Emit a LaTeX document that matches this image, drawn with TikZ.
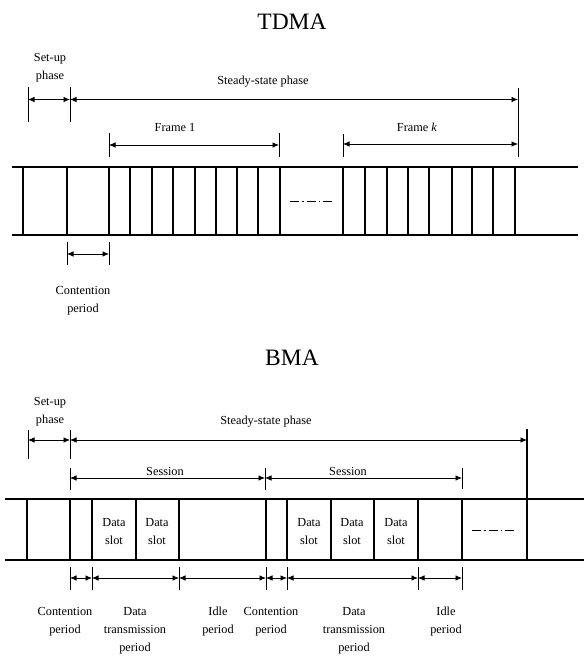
\documentclass[tikz,border=0pt]{standalone}
\usepackage{fontspec}
\setmainfont{Liberation Serif}
\usetikzlibrary{arrows.meta}
\begin{document}
\begin{tikzpicture}[x=1pt,y=-1pt,
  dim/.style={line width=0.8pt, {Latex[length=6.5pt,width=5.5pt]}-{Latex[length=6.5pt,width=5.5pt]}},
  tick/.style={line width=1pt},
  rail/.style={line width=1.2pt},
  slotline/.style={line width=1.1pt},
  lbl/.style={font=\fontsize{12.3}{18}\selectfont, align=center, inner sep=0pt},
  ttl/.style={font=\fontsize{23.5}{26}\selectfont, inner sep=0pt},
  dashdot/.style={line width=1pt, dash pattern=on 9pt off 3pt on 1.5pt off 3pt}
]
\useasboundingbox (0,0) rectangle (584,658);

% ================= TDMA =================
\node[ttl] (ttdma) at (292,22) {TDMA};

% rails
\coordinate (tA1) at (12,167); \coordinate (tA2) at (578,167);
\coordinate (tB1) at (12,235); \coordinate (tB2) at (578,235);
\draw[rail] (tA1) -- (tA2);
\draw[rail] (tB1) -- (tB2);
% slot lines
\foreach \x in {23,67,109,130,152,173,195,216,237,258,280,343,365,387,408,429,452,472,493,515}
  \draw[slotline] (\x,167) -- (\x,235);
% dash-dot
\coordinate (tdd1) at (290,201); \coordinate (tdd2) at (333,201);
\draw[dashdot] (tdd1) -- (tdd2);

% ticks
\draw[tick] (28,87) -- (28,122);
\draw[tick] (70,87) -- (70,122);
\draw[tick] (518,88) -- (518,157);
\draw[tick] (109,133) -- (109,157);
\draw[tick] (279,133) -- (279,157);
\draw[tick] (343,134) -- (343,157);
\draw[tick] (67,242) -- (67,265);
\draw[tick] (109,242) -- (109,265);

% arrow end points
\coordinate (ts0) at (28,99.5); \coordinate (ts1) at (70,99.5); \coordinate (ts2) at (518,99.5);
\coordinate (tf1a) at (109,145); \coordinate (tf1b) at (279,145);
\coordinate (tfka) at (343,144); \coordinate (tfkb) at (518,144);
\coordinate (tca) at (67,254); \coordinate (tcb) at (109,254);

\draw[dim] (ts0) -- (ts1);
\draw[dim] (ts1) -- (ts2);
\draw[dim] (tf1a) -- (tf1b);
\draw[dim] (tfka) -- (tfkb);
\draw[dim] (tca) -- (tcb);

% labels
\node[lbl] (tsetup) at (50,68) {Set-up\\phase};
\node[lbl] (tsteady) at (263,82) {Steady-state phase};
\node[lbl] (tframe1) at (175,128) {Frame 1};
\node[lbl] (tframek) at (417,127) {Frame \textit{k}};
\node[lbl] (tcont) at (83,301) {Contention\\period};

% ================= BMA =================
\node[ttl] (tbma) at (292,358) {BMA};

\coordinate (bA1) at (5,499); \coordinate (bA2) at (584,499);
\coordinate (bB1) at (5,560); \coordinate (bB2) at (584,560);
\draw[rail] (bA1) -- (bA2);
\draw[rail] (bB1) -- (bB2);
\foreach \x in {27,70,92,136,179,266,287,331,374,418,462}
  \draw[slotline] (\x,499) -- (\x,560);
% long right tick merges with slot line
\draw[slotline] (527,429) -- (527,560);

\coordinate (bdd1) at (472,530); \coordinate (bdd2) at (517,530);
\draw[dashdot] (bdd1) -- (bdd2);

% data slots
\foreach \x in {114,157,309,352,396}
  \node[lbl] at (\x,532) {Data\\slot};

% ticks
\draw[tick] (28,430) -- (28,459);
\draw[tick] (70,430) -- (70,459);
\draw[tick] (70,468) -- (70,490);
\draw[tick] (265,468) -- (265,490);
\draw[tick] (462,468) -- (462,489);
\foreach \x in {70,92,179,266,287,418,462}
  \draw[tick] (\x,567) -- (\x,590);

% arrow points
\coordinate (bs0) at (28,440); \coordinate (bs1) at (70,440); \coordinate (bs2) at (527,440);
\coordinate (bse0) at (70,478); \coordinate (bse1) at (265,478); \coordinate (bse2) at (462,478);
\coordinate (bp0) at (70,578); \coordinate (bp1) at (92,578); \coordinate (bp2) at (179,578);
\coordinate (bp3) at (266,578); \coordinate (bp4) at (287,578); \coordinate (bp5) at (418,578);
\coordinate (bp6) at (462,578);

\draw[dim] (bs0) -- (bs1);
\draw[dim] (bs1) -- (bs2);
\draw[dim] (bse0) -- (bse1);
\draw[dim] (bse1) -- (bse2);
\draw[dim] (bp0) -- (bp1);
\draw[dim] (bp1) -- (bp2);
\draw[dim] (bp2) -- (bp3);
\draw[dim] (bp3) -- (bp4);
\draw[dim] (bp4) -- (bp5);
\draw[dim] (bp5) -- (bp6);

% labels
\node[lbl] (bsetup) at (50,412) {Set-up\\phase};
\node[lbl] (bsteady) at (266,422) {Steady-state phase};
\node[lbl] (bsess1) at (165,471) {Session};
\node[lbl] (bsess2) at (348,471) {Session};

\node[lbl,anchor=north] (bl1) at (65,607) {Contention\\period};
\node[lbl,anchor=north] (bl2) at (135,607) {Data\\transmission\\period};
\node[lbl,anchor=north] (bl3) at (218,607) {Idle\\period};
\node[lbl,anchor=north] (bl4) at (271,607) {Contention\\period};
\node[lbl,anchor=north] (bl5) at (354,607) {Data\\transmission\\period};
\node[lbl,anchor=north] (bl6) at (446,607) {Idle\\period};
\end{tikzpicture}
\end{document}
